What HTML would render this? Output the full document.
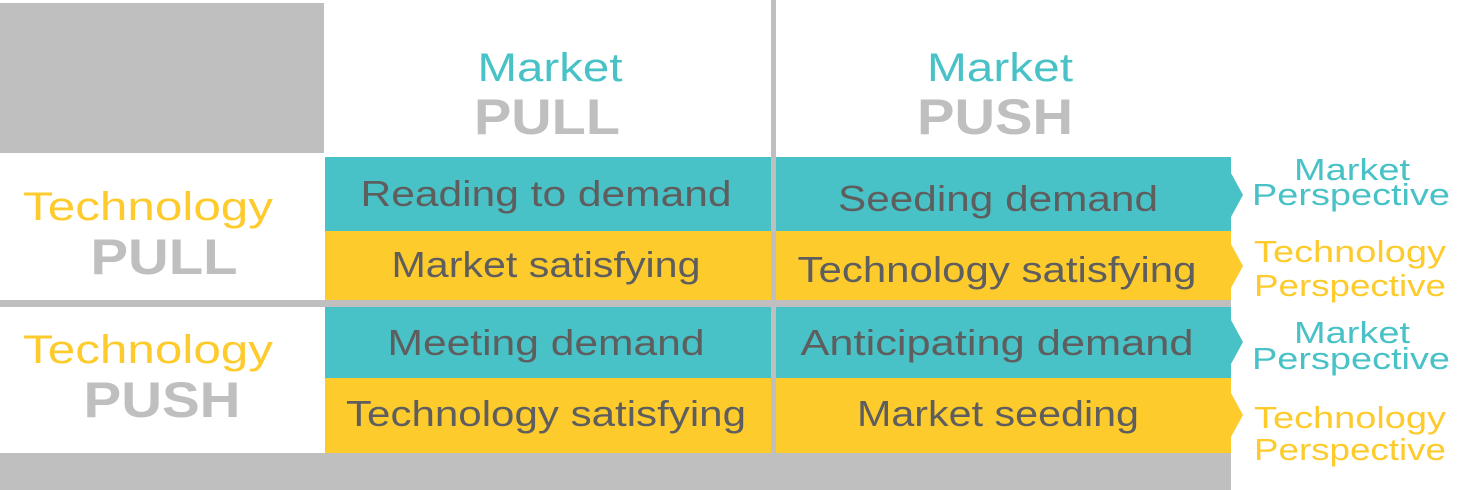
<!DOCTYPE html>
<html><head><meta charset="utf-8"><style>
html,body{margin:0;padding:0;background:#fff;}
svg{display:block;font-family:"Liberation Sans",sans-serif;}
</style></head><body>
<svg width="1480" height="490" viewBox="0 0 1480 490">
<rect x="0" y="3" width="324" height="150" fill="#bfbfbf"/>
<rect x="0" y="300" width="1231" height="7" fill="#bfbfbf"/>
<rect x="0" y="453" width="1231" height="37" fill="#bfbfbf"/>
<g>
<rect x="325" y="157" width="906" height="74" fill="#48c2c7"/>
<polygon points="1231,173 1243,195 1231,217" fill="#48c2c7"/>
<rect x="325" y="231" width="906" height="69" fill="#fecb2d"/>
<polygon points="1231,244 1243,266 1231,288" fill="#fecb2d"/>
<rect x="325" y="307" width="906" height="71" fill="#48c2c7"/>
<polygon points="1231,320 1243,342 1231,364" fill="#48c2c7"/>
<rect x="325" y="378" width="906" height="75" fill="#fecb2d"/>
<polygon points="1231,393 1243,415 1231,437" fill="#fecb2d"/>
</g>
<rect x="771" y="0" width="5" height="455" fill="#bfbfbf"/>
<g text-anchor="middle">
<text x="550" y="81" font-size="40" fill="#48c2c7" textLength="145" lengthAdjust="spacingAndGlyphs">Market</text>
<text x="547" y="134" font-size="50" font-weight="bold" fill="#bfbfbf" textLength="146" lengthAdjust="spacingAndGlyphs">PULL</text>
<text x="1000" y="81" font-size="40" fill="#48c2c7" textLength="146" lengthAdjust="spacingAndGlyphs">Market</text>
<text x="995" y="134" font-size="50" font-weight="bold" fill="#bfbfbf" textLength="156" lengthAdjust="spacingAndGlyphs">PUSH</text>
<text x="148" y="220" font-size="40" fill="#fecb2d" textLength="250" lengthAdjust="spacingAndGlyphs">Technology</text>
<text x="164" y="274" font-size="50" font-weight="bold" fill="#bfbfbf" textLength="147" lengthAdjust="spacingAndGlyphs">PULL</text>
<text x="148" y="363" font-size="40" fill="#fecb2d" textLength="250" lengthAdjust="spacingAndGlyphs">Technology</text>
<text x="162" y="417" font-size="50" font-weight="bold" fill="#bfbfbf" textLength="157" lengthAdjust="spacingAndGlyphs">PUSH</text>
<g font-size="36" fill="#5e5e5e">
<text x="546" y="206" textLength="371" lengthAdjust="spacingAndGlyphs">Reading to demand</text>
<text x="998" y="211" textLength="320" lengthAdjust="spacingAndGlyphs">Seeding demand</text>
<text x="546" y="277" textLength="309" lengthAdjust="spacingAndGlyphs">Market satisfying</text>
<text x="997" y="282" textLength="399" lengthAdjust="spacingAndGlyphs">Technology satisfying</text>
<text x="546" y="355" textLength="317" lengthAdjust="spacingAndGlyphs">Meeting demand</text>
<text x="997" y="355" textLength="393" lengthAdjust="spacingAndGlyphs">Anticipating demand</text>
<text x="546" y="426" textLength="400" lengthAdjust="spacingAndGlyphs">Technology satisfying</text>
<text x="998" y="426" textLength="282" lengthAdjust="spacingAndGlyphs">Market seeding</text>
</g>
<g font-size="31">
<text x="1352" y="180" fill="#48c2c7" textLength="116" lengthAdjust="spacingAndGlyphs">Market</text>
<text x="1351" y="205" fill="#48c2c7" textLength="198" lengthAdjust="spacingAndGlyphs">Perspective</text>
<text x="1350" y="262" fill="#fecb2d" textLength="192" lengthAdjust="spacingAndGlyphs">Technology</text>
<text x="1350" y="296" fill="#fecb2d" textLength="192" lengthAdjust="spacingAndGlyphs">Perspective</text>
<text x="1352" y="343" fill="#48c2c7" textLength="116" lengthAdjust="spacingAndGlyphs">Market</text>
<text x="1351" y="369" fill="#48c2c7" textLength="198" lengthAdjust="spacingAndGlyphs">Perspective</text>
<text x="1350" y="428" fill="#fecb2d" textLength="192" lengthAdjust="spacingAndGlyphs">Technology</text>
<text x="1350" y="460" fill="#fecb2d" textLength="192" lengthAdjust="spacingAndGlyphs">Perspective</text>
</g>
</g>
</svg>
</body></html>
